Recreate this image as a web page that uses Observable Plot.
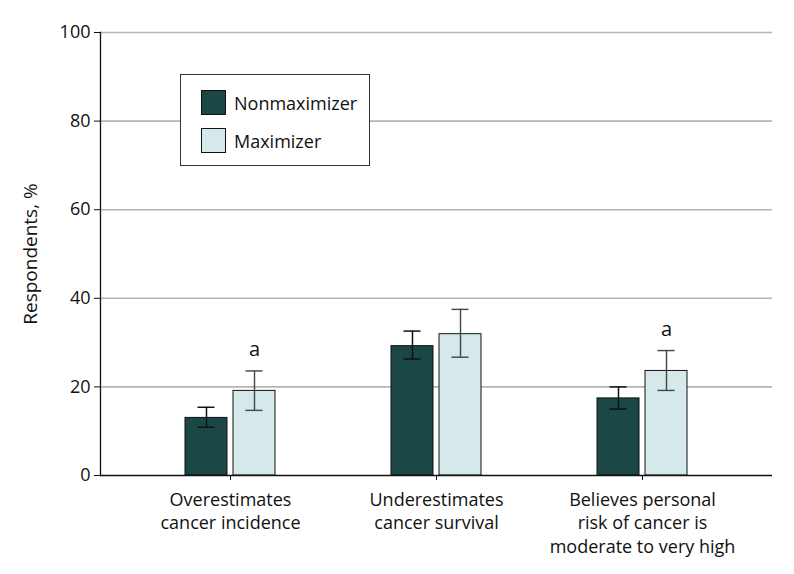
<!DOCTYPE html>
<html>
<head>
<meta charset="utf-8">
<script src="https://cdn.jsdelivr.net/npm/d3@7"></script>
<script src="https://cdn.jsdelivr.net/npm/@observablehq/plot@0.6"></script>
<style>
  html, body { margin: 0; padding: 0; background: #fff; }
  #wrap { position: relative; width: 794px; height: 574px; font-family: "Open Sans", sans-serif; }
  #legend { position: absolute; left: 180px; top: 74px; width: 188px; height: 90px; border: 1.5px solid #333; background: #fff; box-sizing: content-box; }
  .item { position: absolute; left: 20px; display: flex; align-items: center; font-size: 18px; color: #111; }
  .sw { width: 23px; height: 23px; border: 1px solid #111; margin-right: 8px; }
</style>
</head>
<body>
<div id="wrap"></div>
<script>
const categories = [
  "Overestimates\ncancer incidence",
  "Underestimates\ncancer survival",
  "Believes personal\nrisk of cancer is\nmoderate to very high"
];
const groups = ["Nonmaximizer", "Maximizer"];
const colors = ["#1b4746", "#d5e9ea"];
const nonmaxValue = [13.0, 29.2, 17.4];
const nonmaxLow = [10.9, 26.3, 15.0];
const nonmaxHigh = [15.4, 32.6, 20.0];
const maxValue = [19.1, 31.9, 23.6];
const maxLow = [14.7, 26.7, 19.2];
const maxHigh = [23.6, 37.5, 28.2];
const significance = ["a", "", "a"];
const yTicks = [0, 20, 40, 60, 80, 100];

const rows = [];
categories.forEach((c, i) => {
  rows.push({category: c, group: groups[0], value: nonmaxValue[i], low: nonmaxLow[i], high: nonmaxHigh[i], sig: ""});
  rows.push({category: c, group: groups[1], value: maxValue[i], low: maxLow[i], high: maxHigh[i], sig: significance[i]});
});
const dark = rows.filter(d => d.group === groups[0]);
const light = rows.filter(d => d.group === groups[1]);

const plot = Plot.plot({
  width: 794,
  height: 574,
  marginLeft: 100,
  marginRight: 22,
  marginTop: 32,
  marginBottom: 99,
  style: {fontFamily: "Open Sans, sans-serif", fontSize: "18px", color: "#111", background: "#fff"},
  x: {domain: categories, paddingInner: 0.563, paddingOuter: 0.4125, align: 0.5},
  y: {domain: [0, 100]},
  marks: [
    Plot.ruleY(yTicks.filter(t => t > 0), {stroke: "#b5b5b5", strokeWidth: 1.6}),
    Plot.barY(dark, {x: "category", y: "value", fill: colors[0], stroke: "#111", strokeWidth: 1, insetRight: 48}),
    Plot.barY(light, {x: "category", y: "value", fill: colors[1], stroke: "#111", strokeWidth: 1, insetLeft: 48}),
    Plot.ruleX(dark, {x: "category", y1: "low", y2: "high", dx: -24, stroke: "#111", strokeWidth: 1.5}),
    Plot.tickY(dark, {x: "category", y: "low", insetLeft: 12.5, insetRight: 60.5, stroke: "#111", strokeWidth: 1.5}),
    Plot.tickY(dark, {x: "category", y: "high", insetLeft: 12.5, insetRight: 60.5, stroke: "#111", strokeWidth: 1.5}),
    Plot.ruleX(light, {x: "category", y1: "low", y2: "high", dx: 24, stroke: "#444", strokeWidth: 1.4}),
    Plot.tickY(light, {x: "category", y: "low", insetLeft: 60.5, insetRight: 12.5, stroke: "#444", strokeWidth: 1.4}),
    Plot.tickY(light, {x: "category", y: "high", insetLeft: 60.5, insetRight: 12.5, stroke: "#444", strokeWidth: 1.4}),
    Plot.text(light, {x: "category", y: "high", text: "sig", dx: 24, dy: -21, fontSize: 20, fill: "#111"}),
    Plot.ruleY([0], {stroke: "#111", strokeWidth: 1.3}),
    Plot.frame({anchor: "left", stroke: "#111", strokeWidth: 1.3}),
    Plot.axisY({ticks: yTicks, tickSize: 6, tickPadding: 4, fontSize: 18, label: "Respondents, %", labelAnchor: "center", labelArrow: "none", labelOffset: 77}),
    Plot.axisX({tickSize: 5, tickPadding: 8, fontSize: 18, lineHeight: 1.33, label: null})
  ]
});

const wrap = document.getElementById("wrap");
wrap.appendChild(plot);
// enlarge the y-axis title only
plot.querySelectorAll("text").forEach(t => { if (t.textContent === "Respondents, %") t.setAttribute("font-size", "19"); });

const legend = document.createElement("div");
legend.id = "legend";
groups.forEach((g, i) => {
  const item = document.createElement("div");
  item.className = "item";
  item.style.top = (i === 0 ? 15 : 53) + "px";
  const sw = document.createElement("div");
  sw.className = "sw";
  sw.style.background = colors[i];
  const label = document.createElement("span");
  label.textContent = g;
  item.appendChild(sw);
  item.appendChild(label);
  legend.appendChild(item);
});
wrap.appendChild(legend);
</script>
</body>
</html>
